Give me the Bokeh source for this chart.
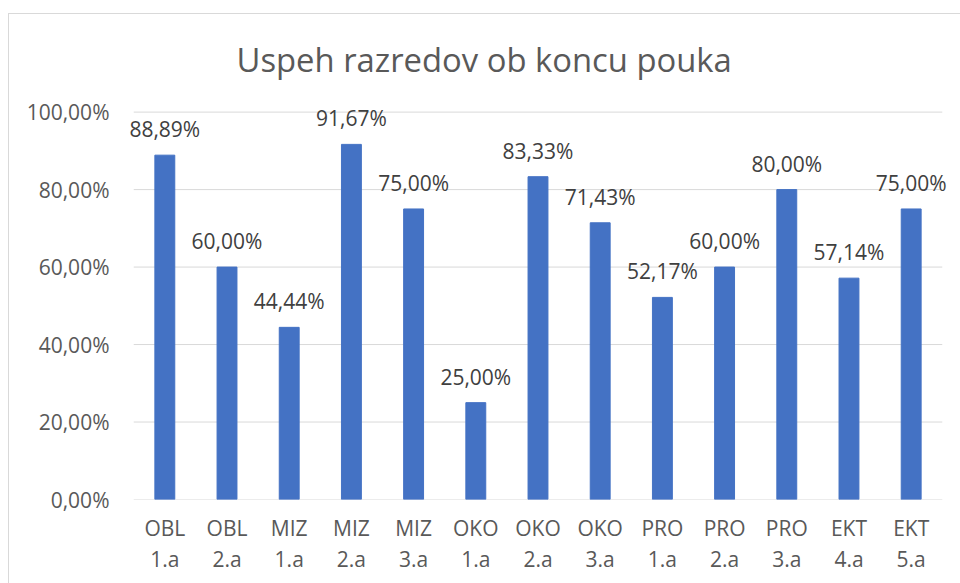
from bokeh.plotting import figure
from bokeh.models import ColumnDataSource, LabelSet, FixedTicker, Range1d, LinearAxis
from bokeh.core.properties import value
from bokeh.embed import file_html
from bokeh.resources import INLINE

subjects = ["OBL", "OBL", "MIZ", "MIZ", "MIZ", "OKO", "OKO", "OKO", "PRO", "PRO", "PRO", "EKT", "EKT"]
classes = ["1.a", "2.a", "1.a", "2.a", "3.a", "1.a", "2.a", "3.a", "1.a", "2.a", "3.a", "4.a", "5.a"]
values = [88.89, 60.00, 44.44, 91.67, 75.00, 25.00, 83.33, 71.43, 52.17, 60.00, 80.00, 57.14, 75.00]
y_ticks = [0, 20, 40, 60, 80, 100]

n = len(values)
pos = list(range(n))
labels = [f"{v:.2f}".replace(".", ",") + "%" for v in values]

FONT = "Open Sans"
TXT = "#595959"
FS = "21px"

src = ColumnDataSource(dict(x=pos, top=values, label=labels))
grid = ColumnDataSource(dict(x0=[-0.5] * len(y_ticks), x1=[n - 0.5] * len(y_ticks), y=y_ticks))

p = figure(x_range=Range1d(-0.6, n - 0.4), y_range=Range1d(0, 103), width=952, height=570,
           output_backend="svg", toolbar_location=None, x_axis_location=None,
           min_border_left=118, min_border_right=13, min_border_top=86, min_border_bottom=85,
           title="Uspeh razredov ob koncu pouka")
p.margin = (13, 0, 0, 8)
p.styles = {"border-top": "1px solid #d9d9d9", "border-left": "1px solid #d9d9d9"}

p.title.align = "left"
p.title.text_font = FONT
p.title.text_font_size = "32.8px"
p.title.text_font_style = "normal"
p.title.text_color = TXT
p.title.offset = 109
p.title.standoff = 38

p.segment(x0="x0", x1="x1", y0="y", y1="y", source=grid, line_color="#d9d9d9", line_width=1)
p.vbar(x="x", top="top", width=0.32, source=src, color="#4472C4")

p.add_layout(LabelSet(x="x", y="top", text="label", source=src, text_align="center",
                      text_baseline="middle", y_offset=26, text_font=value(FONT),
                      text_font_size=FS, text_color="#404040"))

ax_subj = LinearAxis(ticker=FixedTicker(ticks=pos), major_label_overrides=dict(zip(pos, subjects)))
ax_cls = LinearAxis(ticker=FixedTicker(ticks=pos), major_label_overrides=dict(zip(pos, classes)))
for ax, so in ((ax_subj, 14), (ax_cls, 0)):
    ax.axis_line_color = None
    ax.major_tick_line_color = None
    ax.minor_tick_line_color = None
    ax.major_tick_out = 0
    ax.major_tick_in = 0
    ax.minor_tick_out = 0
    ax.major_label_standoff = so
    ax.major_label_text_font = FONT
    ax.major_label_text_font_size = FS
    ax.major_label_text_color = TXT
    p.add_layout(ax, "below")

p.yaxis.ticker = FixedTicker(ticks=y_ticks)
p.yaxis.major_label_overrides = {t: f"{t},00%" for t in y_ticks}
p.yaxis.axis_line_color = None
p.yaxis.major_tick_line_color = None
p.yaxis.minor_tick_line_color = None
p.yaxis.major_tick_out = 0
p.yaxis.major_tick_in = 0
p.yaxis.minor_tick_out = 0
p.yaxis.major_label_standoff = 18
p.yaxis.major_label_text_font = FONT
p.yaxis.major_label_text_font_size = FS
p.yaxis.major_label_text_color = TXT

p.xgrid.grid_line_color = None
p.ygrid.grid_line_color = None
p.outline_line_color = None

open("out.html", "w").write(file_html(p, INLINE))
